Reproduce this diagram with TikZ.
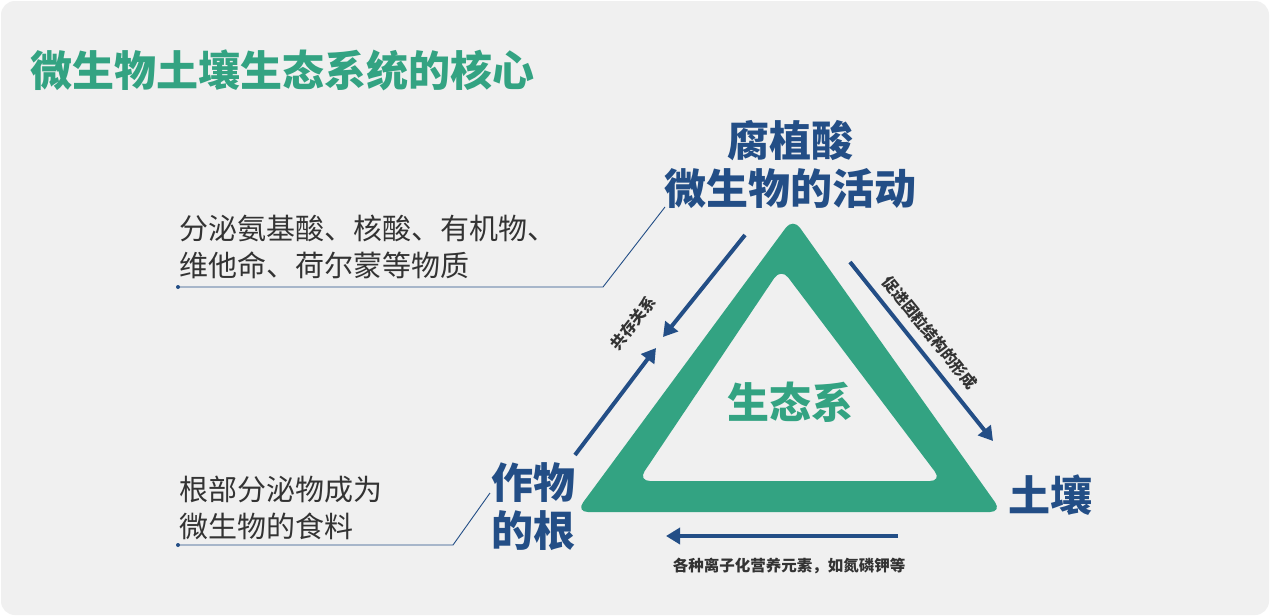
\documentclass[tikz,border=0pt]{standalone}
\usepackage{fontspec}
\setmainfont{Noto Sans CJK SC}
\usetikzlibrary{arrows.meta}
\definecolor{tgreen}{HTML}{33A382}
\definecolor{tblue}{HTML}{234E86}
\definecolor{bg}{HTML}{F0F0F0}
\definecolor{tgray}{HTML}{333333}
\tikzset{
  arr/.style={draw=tblue,line width=4pt,-{Triangle[length=14pt,width=16pt]}},
  big/.style={text=tblue,font=\fontsize{42}{48}\bfseries\selectfont,align=center},
  note/.style={text=tgray,font=\fontsize{29}{37}\selectfont,align=left,anchor=west},
  lead/.style={draw=tblue,line width=0.9pt},
  small/.style={text=tgray,font=\fontsize{15.5}{18}\bfseries\selectfont}
}
\begin{document}
\begin{tikzpicture}[x=1pt,y=-1pt]
\useasboundingbox (0,0) rectangle (1270,616);
\fill[white] (0,0) rectangle (1270,616);
\fill[bg,rounded corners=14pt] (1,1) rectangle (1269,615);
\node[anchor=west,text=tgreen,font=\fontsize{42}{46}\bfseries\selectfont] (title) at (27,70) {微生物土壤生态系统的核心};
% triangle
\fill[tgreen,rounded corners=12pt,even odd rule]
  (793,218) -- (1002,512) -- (576,512) -- cycle
  (781,268) -- (942,481) -- (638,481) -- cycle;
\node[text=tgreen,font=\fontsize{42}{46}\bfseries\selectfont] (eco) at (790,402) {生态系};
\node[big] (top) at (790,165) {腐植酸\\微生物的活动};
\node[big] (root) at (533,507) {作物\\的根};
\node[big] (soil) at (1050,495) {土壤};
% arrows
\coordinate (a1s) at (745,235); \coordinate (a1e) at (663,337);
\coordinate (a2s) at (575,455); \coordinate (a2e) at (656,348);
\coordinate (a3s) at (850,262); \coordinate (a3e) at (993,441);
\coordinate (a4s) at (898,536); \coordinate (a4e) at (666,536);
\draw[arr] (a1s) -- (a1e);
\draw[arr] (a2s) -- (a2e);
\draw[arr] (a3s) -- (a3e);
\draw[arr] (a4s) -- (a4e);
\node[small,rotate=52] (l1) at (633,323) {共存关系};
\node[small,rotate=-51] (l2) at (930,333) {促进团粒结构的形成};
\node[small] (l3) at (789,566) {各种离子化营养元素，如氮磷钾等};
% callouts
\node[note] (n1) at (176,247) {分泌氨基酸、核酸、有机物、\\维他命、荷尔蒙等物质};
\coordinate (c1a) at (178,287); \coordinate (c1b) at (603,287); \coordinate (c1c) at (665,207);
\draw[lead] (c1a) -- (c1b) -- (c1c);
\fill[tblue] (c1a) circle (2pt);
\node[note] (n2) at (176,508) {根部分泌物成为\\微生物的食料};
\coordinate (c2a) at (178,545); \coordinate (c2b) at (453,545); \coordinate (c2c) at (490,493);
\draw[lead] (c2a) -- (c2b) -- (c2c);
\fill[tblue] (c2a) circle (2pt);
\end{tikzpicture}
\end{document}
